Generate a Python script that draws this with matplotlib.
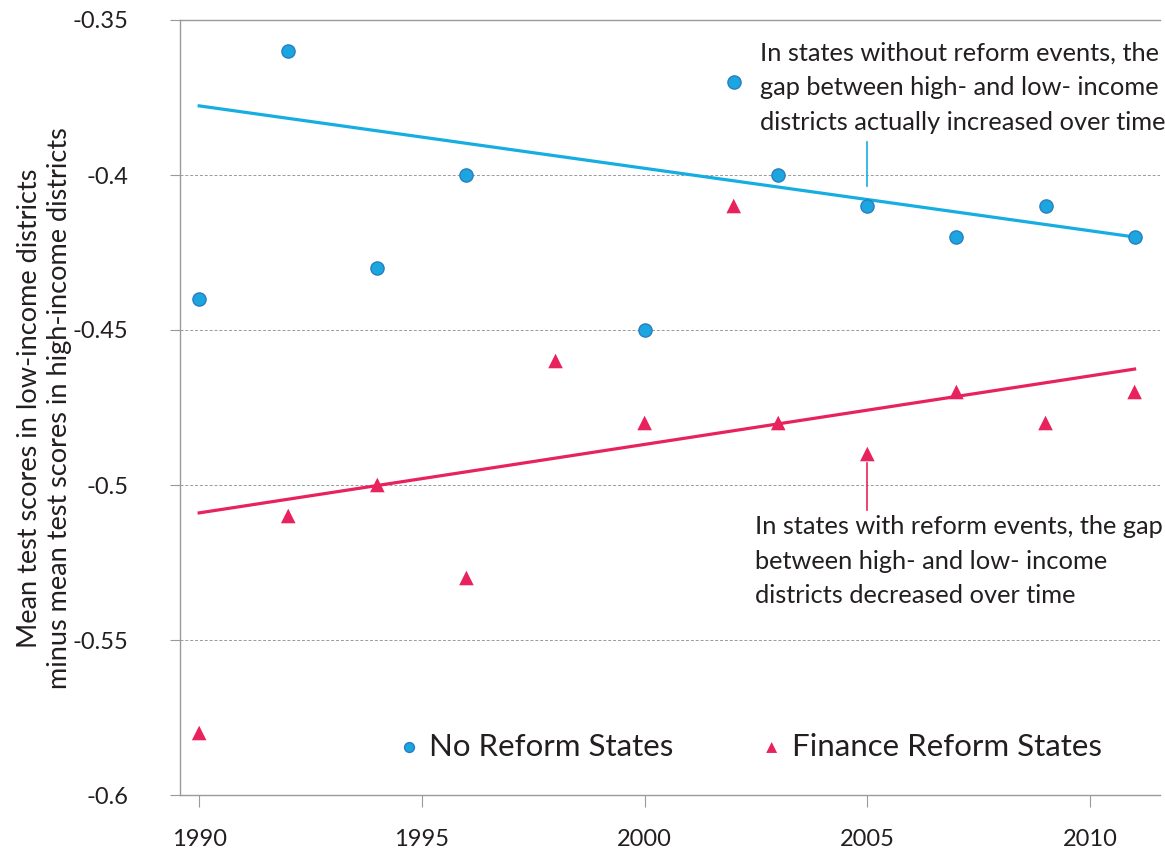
import numpy as np
import matplotlib
matplotlib.use("Agg")
import matplotlib.pyplot as plt

plt.rcParams["font.family"] = ["Lato", "DejaVu Sans"]

# data
no_reform_years = [1990, 1992, 1994, 1996, 2000, 2002, 2003, 2005, 2007, 2009, 2011]
no_reform_gap = [-0.44, -0.36, -0.43, -0.40, -0.45, -0.37, -0.40, -0.41, -0.42, -0.41, -0.42]

reform_years = [1990, 1992, 1994, 1996, 1998, 2000, 2002, 2003, 2005, 2007, 2009, 2011]
reform_gap = [-0.58, -0.51, -0.50, -0.53, -0.46, -0.48, -0.41, -0.48, -0.49, -0.47, -0.48, -0.47]

# trend line end points
trend_years = [1990, 2011]
no_reform_trend = [-0.3777, -0.4200]
reform_trend = [-0.5090, -0.4626]

blue = "#16aee0"
blue_edge = "#2b7dc0"
red = "#e8225c"
text_col = "#231f20"
grid_col = "#9a9a9a"

fig = plt.figure(figsize=(11.65, 8.5), dpi=100)
ax = fig.add_axes([180 / 1165, 1 - 795 / 850, 980 / 1165, 775 / 850])

ax.plot(trend_years, no_reform_trend, color=blue, lw=2.3, zorder=2)
ax.plot(trend_years, reform_trend, color=red, lw=2.3, zorder=2)

ax.scatter(no_reform_years, no_reform_gap, s=90, color="#1ba6df",
           edgecolor=blue_edge, linewidth=1.0, zorder=3, label="No Reform States")
ax.scatter(reform_years, reform_gap, s=110, marker="^", color=red,
           edgecolor="none", zorder=3, label="Finance Reform States")

ax.set_xlim(1989.57, 2011.57)
ax.set_ylim(-0.6, -0.35)
ax.set_xticks([1990, 1995, 2000, 2005, 2010])
ax.set_yticks([-0.6, -0.55, -0.5, -0.45, -0.4, -0.35])
ax.set_yticklabels(["-0.6", "-0.55", "-0.5", "-0.45", "-0.4", "-0.35"])

ax.grid(axis="y", color=grid_col, linestyle=(0, (3, 2)), lw=0.7, zorder=0)
ax.spines["right"].set_visible(False)
for side in ["left", "bottom", "top"]:
    ax.spines[side].set_color(grid_col)
    ax.spines[side].set_linewidth(1.0)

ax.tick_params(axis="y", length=7, width=0.8, color=grid_col, pad=30,
               labelsize=17, labelcolor=text_col)
ax.tick_params(axis="x", length=8.5, width=0.8, color=grid_col, pad=16,
               labelsize=17, labelcolor=text_col)

fig.text(45 / 1165, 1 - 408 / 850,
         "Mean test scores in low-income districts\nminus mean test scores in high-income districts",
         fontsize=19.5, color=text_col, rotation=90, ha="center", va="center",
         linespacing=1.25)

# annotations
ax.plot([2005, 2005], [-0.3894, -0.4036], color=blue, lw=1.2)
ax.text(2002.59, -0.3570, "In states without reform events, the\ngap between high- and low- income\ndistricts actually increased over time",
        fontsize=18.3, color=text_col, va="top", ha="left", linespacing=1.6)

ax.plot([2005, 2005], [-0.4929, -0.508], color=red, lw=1.2)
ax.text(2002.48, -0.5098, "In states with reform events, the gap\nbetween high- and low- income\ndistricts decreased over time",
        fontsize=18.3, color=text_col, va="top", ha="left", linespacing=1.6)

leg = ax.legend(loc="lower center", bbox_to_anchor=(0.583, 0.008), ncol=2,
                frameon=False, fontsize=22.5, handlelength=0.5, handletextpad=0.4,
                columnspacing=2.9, scatterpoints=1, markerscale=0.75)
for t in leg.get_texts():
    t.set_color(text_col)

fig.savefig("out.png", dpi=100)
